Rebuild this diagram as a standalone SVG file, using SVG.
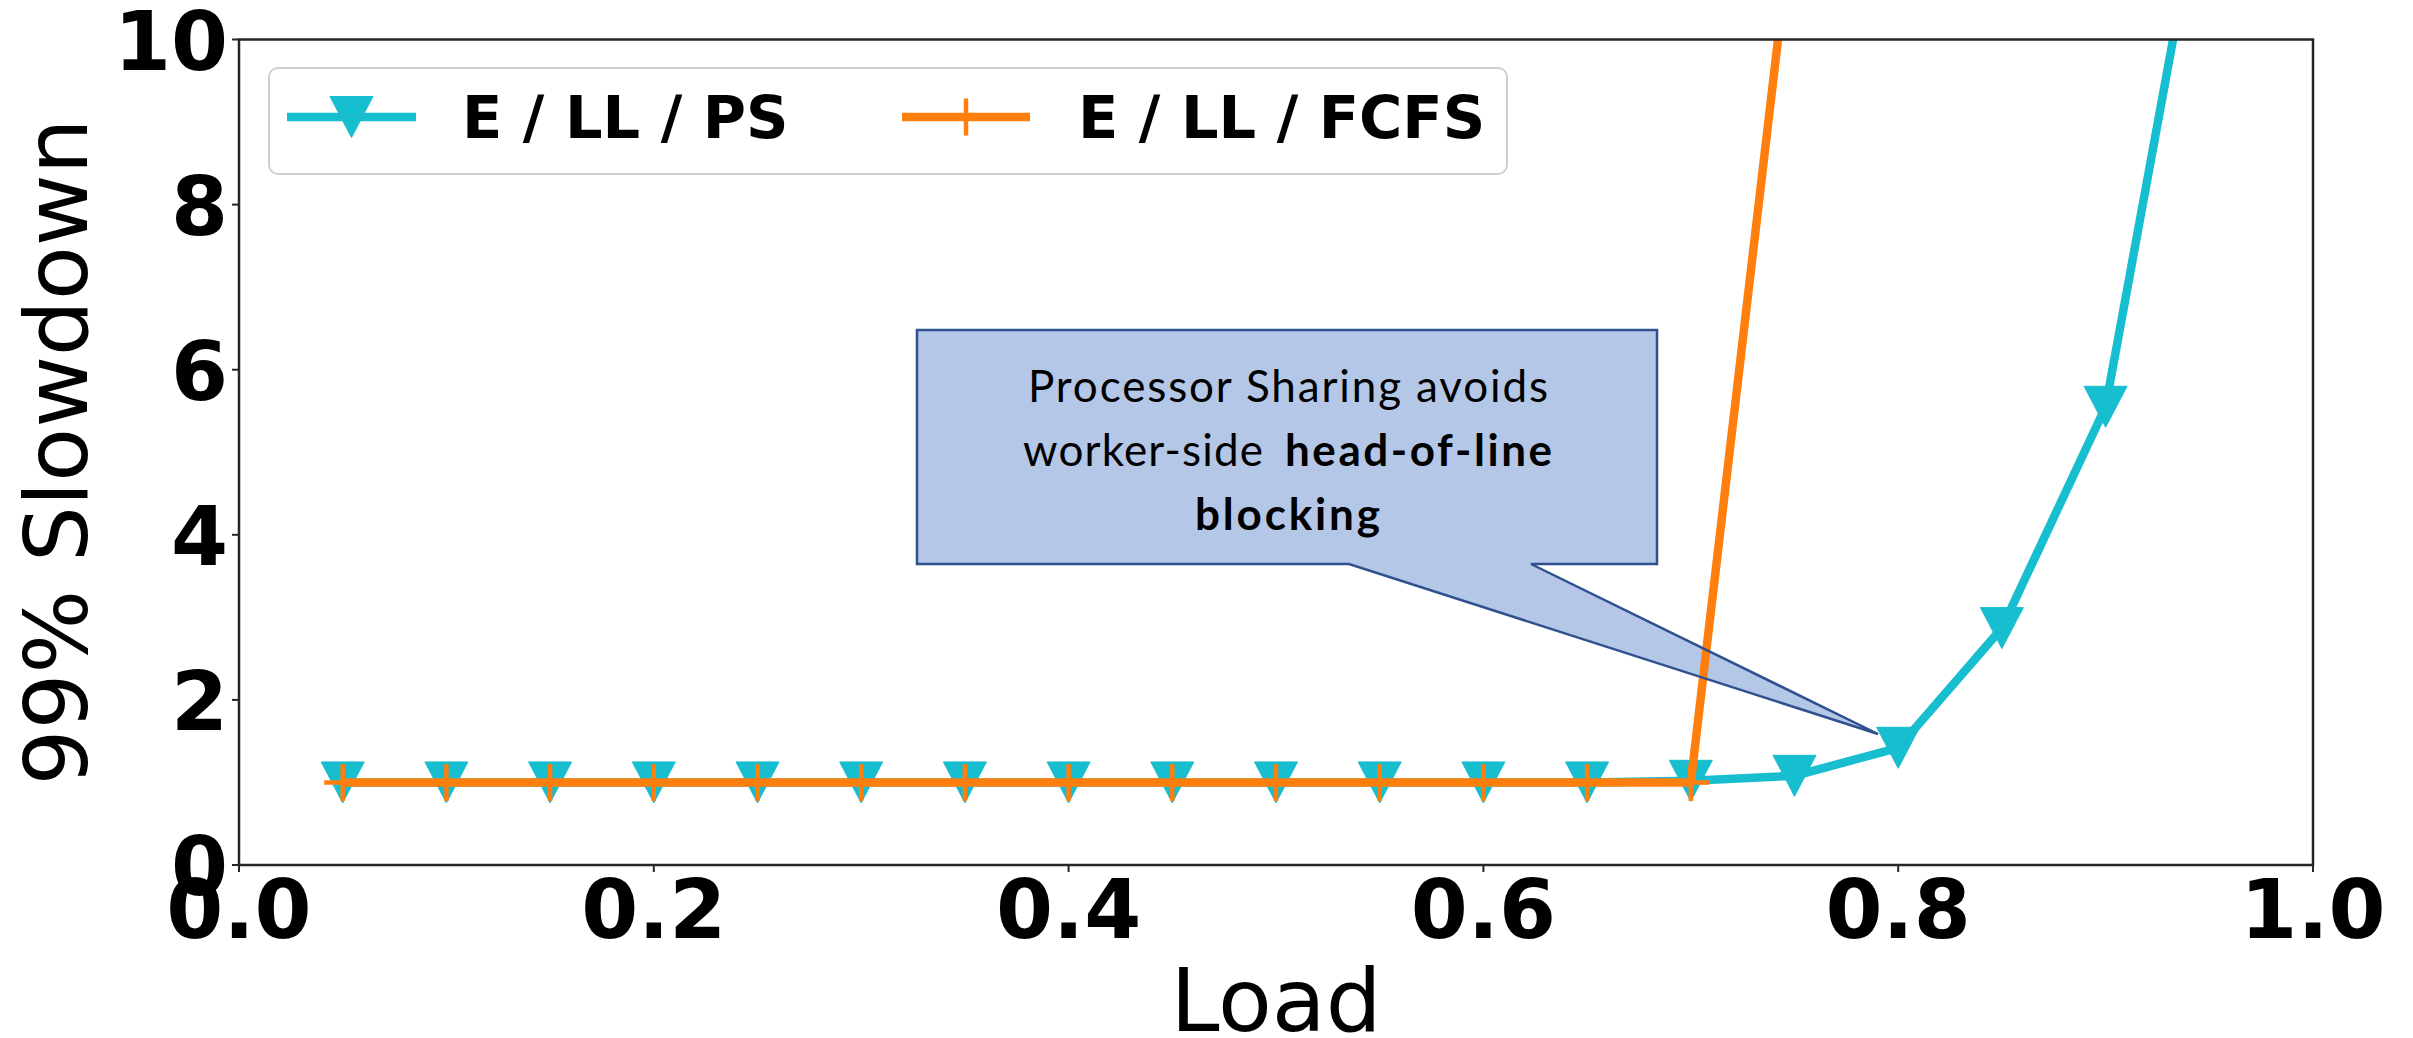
<svg xmlns="http://www.w3.org/2000/svg" xmlns:xlink="http://www.w3.org/1999/xlink" width="2413" height="1038" viewBox="0 0 2413 1038">
  <style>
    .tick { font-family: "DejaVu Sans", sans-serif; font-weight: bold; font-size: 82px; fill: #000; }
    .axlabel { font-family: "DejaVu Sans", sans-serif; font-size: 88px; fill: #000; }
    .legtext { font-family: "DejaVu Sans", sans-serif; font-weight: bold; font-size: 59px; fill: #000; }
    .note { font-family: "Lato", "Liberation Sans", sans-serif; font-size: 44px; fill: #000; }
    .note-b { font-weight: bold; }
    .spine { stroke: #262626; stroke-width: 2.5; fill: none; }
    .tickmark { stroke: #262626; stroke-width: 2; }
    .ps-line { fill: none; stroke: #17becf; stroke-width: 8.5; stroke-linejoin: round; }
    .fcfs-line { fill: none; stroke: #ff7f0e; stroke-width: 8.5; stroke-linejoin: round; }
  </style>
  <defs>
    <clipPath id="plotArea">
      <rect x="239" y="39.5" width="2074" height="825.5"/>
    </clipPath>
    <!-- downward triangle marker for the PS series -->
    <path id="triDown" d="M-21.5,-20.5 H21.5 L0,20.5 Z" fill="#17becf" stroke="#17becf" stroke-width="1"/>
    <!-- plus marker for the FCFS series -->
    <path id="plus" d="M-18.5,0 H18.5 M0,-18.5 V18.5" stroke="#ff7f0e" stroke-width="4.5" fill="none"/>
  </defs>

  <rect x="0" y="0" width="2413" height="1038" fill="#ffffff"/>

  <!-- Data series, clipped to the axes box -->
  <g id="series-ps" clip-path="url(#plotArea)">
    <polyline class="ps-line" points="342.7,782.45 446.4,782.45 550.1,782.45 653.8,782.45 757.5,782.45 861.2,782.45 964.9,782.45 1068.6,782.45 1172.3,782.45 1276,782.45 1379.7,782.45 1483.4,782.45 1587.1,782.45 1690.8,780.8 1794.5,775.8 1898.2,747.8 2001.9,628.1 2105.6,406.8 2209.3,-158"/>
    <use xlink:href="#triDown" x="342.7" y="782.45"/>
    <use xlink:href="#triDown" x="446.4" y="782.45"/>
    <use xlink:href="#triDown" x="550.1" y="782.45"/>
    <use xlink:href="#triDown" x="653.8" y="782.45"/>
    <use xlink:href="#triDown" x="757.5" y="782.45"/>
    <use xlink:href="#triDown" x="861.2" y="782.45"/>
    <use xlink:href="#triDown" x="964.9" y="782.45"/>
    <use xlink:href="#triDown" x="1068.6" y="782.45"/>
    <use xlink:href="#triDown" x="1172.3" y="782.45"/>
    <use xlink:href="#triDown" x="1276" y="782.45"/>
    <use xlink:href="#triDown" x="1379.7" y="782.45"/>
    <use xlink:href="#triDown" x="1483.4" y="782.45"/>
    <use xlink:href="#triDown" x="1587.1" y="782.45"/>
    <use xlink:href="#triDown" x="1690.8" y="780.8"/>
    <use xlink:href="#triDown" x="1794.5" y="775.8"/>
    <use xlink:href="#triDown" x="1898.2" y="747.8"/>
    <use xlink:href="#triDown" x="2001.9" y="628.1"/>
    <use xlink:href="#triDown" x="2105.6" y="406.8"/>
  </g>

  <!-- Callout fill sits under the FCFS line -->
  <g id="callout-fill">
    <path d="M917,330 H1657 V564 H1531 L1878,734 L1349,564 H917 Z" fill="#b4c7e7" stroke="none"/>
  </g>

  <g id="series-fcfs" clip-path="url(#plotArea)">
    <polyline class="fcfs-line" points="342.7,782.45 446.4,782.45 550.1,782.45 653.8,782.45 757.5,782.45 861.2,782.45 964.9,782.45 1068.6,782.45 1172.3,782.45 1276,782.45 1379.7,782.45 1483.4,782.45 1587.1,782.45 1690.8,782.45 1794.5,-101"/>
    <use xlink:href="#plus" x="342.7" y="782.45"/>
    <use xlink:href="#plus" x="446.4" y="782.45"/>
    <use xlink:href="#plus" x="550.1" y="782.45"/>
    <use xlink:href="#plus" x="653.8" y="782.45"/>
    <use xlink:href="#plus" x="757.5" y="782.45"/>
    <use xlink:href="#plus" x="861.2" y="782.45"/>
    <use xlink:href="#plus" x="964.9" y="782.45"/>
    <use xlink:href="#plus" x="1068.6" y="782.45"/>
    <use xlink:href="#plus" x="1172.3" y="782.45"/>
    <use xlink:href="#plus" x="1276" y="782.45"/>
    <use xlink:href="#plus" x="1379.7" y="782.45"/>
    <use xlink:href="#plus" x="1483.4" y="782.45"/>
    <use xlink:href="#plus" x="1587.1" y="782.45"/>
    <use xlink:href="#plus" x="1690.8" y="782.45"/>
  </g>

  <!-- Axes frame and ticks -->
  <g id="axes">
    <rect class="spine" x="239" y="39.5" width="2074" height="825.5"/>
    <g class="tickmark">
      <line x1="232" y1="39.5" x2="239" y2="39.5"/>
      <line x1="232" y1="204.6" x2="239" y2="204.6"/>
      <line x1="232" y1="369.7" x2="239" y2="369.7"/>
      <line x1="232" y1="534.8" x2="239" y2="534.8"/>
      <line x1="232" y1="699.9" x2="239" y2="699.9"/>
      <line x1="232" y1="865" x2="239" y2="865"/>
      <line x1="239" y1="865" x2="239" y2="872"/>
      <line x1="653.8" y1="865" x2="653.8" y2="872"/>
      <line x1="1068.6" y1="865" x2="1068.6" y2="872"/>
      <line x1="1483.4" y1="865" x2="1483.4" y2="872"/>
      <line x1="1898.2" y1="865" x2="1898.2" y2="872"/>
      <line x1="2313" y1="865" x2="2313" y2="872"/>
    </g>
    <g class="tick" text-anchor="end">
      <text x="228" y="69.5">10</text>
      <text x="228" y="234.6">8</text>
      <text x="228" y="399.7">6</text>
      <text x="228" y="564.8">4</text>
      <text x="228" y="729.9">2</text>
      <text x="228" y="895">0</text>
    </g>
    <g class="tick" text-anchor="middle">
      <text x="239" y="938">0.0</text>
      <text x="653.8" y="938">0.2</text>
      <text x="1068.6" y="938">0.4</text>
      <text x="1483.4" y="938">0.6</text>
      <text x="1898.2" y="938">0.8</text>
      <text x="2313" y="938">1.0</text>
    </g>
    <text class="axlabel" x="1276" y="1031" text-anchor="middle">Load</text>
    <text class="axlabel" transform="translate(87,452) rotate(-90)" text-anchor="middle">99% Slowdown</text>
  </g>

  <!-- Legend -->
  <g id="legend">
    <rect x="269" y="68" width="1238" height="106" rx="9" ry="9" fill="#ffffff" fill-opacity="0.8" stroke="#d0d0d0" stroke-width="2"/>
    <g id="legend-ps">
      <line x1="287" y1="117" x2="416" y2="117" stroke="#17becf" stroke-width="8.5"/>
      <use xlink:href="#triDown" x="351.5" y="117"/>
      <text class="legtext" x="462" y="138">E / LL / PS</text>
    </g>
    <g id="legend-fcfs">
      <line x1="902" y1="117" x2="1030" y2="117" stroke="#ff7f0e" stroke-width="8.5"/>
      <use xlink:href="#plus" x="966" y="117"/>
      <text class="legtext" x="1078" y="138">E / LL / FCFS</text>
    </g>
  </g>

  <!-- Callout outline and note text -->
  <g id="callout">
    <path d="M917,330 H1657 V564 H1531 L1878,734 L1349,564 H917 Z" fill="none" stroke="#2f528f" stroke-width="2.5" stroke-linejoin="miter"/>
    <text class="note" x="1028" y="401.7" textLength="520">Processor Sharing avoids</text>
    <text class="note" x="1023" y="465.7" textLength="240">worker-side</text>
    <text class="note note-b" x="1285" y="465.7" textLength="267">head-of-line</text>
    <text class="note note-b" x="1195" y="530" textLength="185">blocking</text>
  </g>
</svg>
